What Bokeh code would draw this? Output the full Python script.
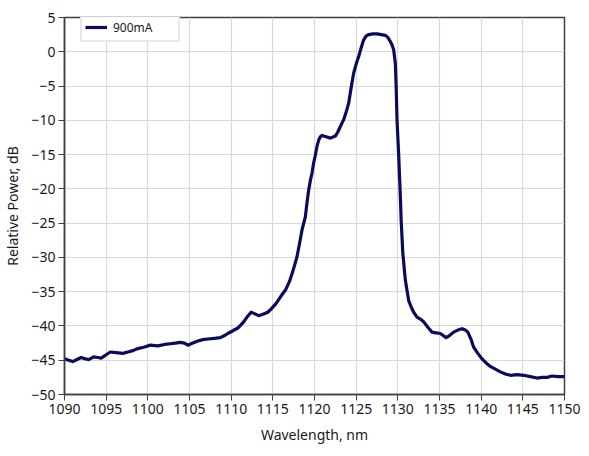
from bokeh.plotting import figure
from bokeh.models import Legend, LegendItem, FixedTicker, Range1d
from bokeh.embed import file_html
from bokeh.resources import INLINE

series_label = "900mA"
wavelength = [1090.0, 1090.5, 1091.0, 1091.5, 1092.0, 1092.5, 1092.9, 1093.5, 1094.0, 1094.4,
              1095.0, 1095.5, 1096.2, 1097.0, 1097.6, 1098.2, 1098.8, 1099.5, 1100.3, 1101.2,
              1102.0, 1102.7, 1103.3, 1103.9, 1104.4, 1104.8, 1105.4, 1106.0, 1106.6, 1107.2,
              1108.0, 1108.7, 1109.2, 1109.6, 1110.2, 1110.8, 1111.2, 1111.5, 1111.9, 1112.4,
              1112.8, 1113.3, 1113.8, 1114.4, 1114.9, 1115.4, 1116.0, 1116.5, 1117.0, 1117.3,
              1117.6, 1117.9, 1118.2, 1118.5, 1118.9, 1119.1, 1119.3, 1119.5, 1119.7, 1119.9,
              1120.1, 1120.3, 1120.5, 1120.7, 1120.9, 1121.4, 1121.9, 1122.5, 1122.8, 1123.1,
              1123.5, 1123.8, 1124.1, 1124.4, 1124.7, 1125.0, 1125.3, 1125.6, 1125.9, 1126.2,
              1126.5, 1127.0, 1127.5, 1128.0, 1128.5, 1128.8, 1129.1, 1129.3, 1129.5, 1129.7,
              1129.8, 1129.9, 1130.1, 1130.3, 1130.4, 1130.6, 1130.8, 1130.9, 1131.1, 1131.3,
              1131.7, 1131.9, 1132.3, 1132.7, 1133.1, 1133.6, 1134.1, 1134.6, 1135.1, 1135.8,
              1136.2, 1136.7, 1137.2, 1137.7, 1138.1, 1138.4, 1138.8, 1139.1, 1139.6, 1140.1,
              1140.6, 1141.1, 1141.7, 1142.3, 1142.9, 1143.5, 1144.3, 1145.1, 1145.9, 1146.7,
              1147.3, 1147.9, 1148.5, 1149.2, 1150.0]
power_db = [-44.8, -45.0, -45.2, -44.9, -44.6, -44.8, -44.9, -44.5, -44.6, -44.7,
            -44.2, -43.8, -43.9, -44.0, -43.8, -43.6, -43.3, -43.1, -42.8, -42.9,
            -42.7, -42.6, -42.5, -42.4, -42.5, -42.8, -42.5, -42.2, -42.0, -41.9,
            -41.8, -41.7, -41.4, -41.1, -40.7, -40.3, -39.8, -39.4, -38.7, -38.0,
            -38.2, -38.5, -38.3, -38.0, -37.4, -36.7, -35.6, -34.8, -33.5, -32.4,
            -31.2, -29.9, -28.0, -26.0, -24.1, -22.0, -20.2, -18.8, -17.7, -16.2,
            -15.1, -13.8, -12.9, -12.4, -12.2, -12.4, -12.6, -12.3, -11.7, -10.9,
            -9.9, -8.8, -7.5, -5.2, -3.1, -1.8, -0.7, 0.6, 1.75, 2.3,
            2.5, 2.6, 2.6, 2.5, 2.4, 2.1, 1.5, 1.0, 0.3, -1.7,
            -5.1, -9.9, -15.0, -21.0, -24.6, -29.4, -32.0, -33.3, -34.8, -36.3,
            -37.5, -38.0, -38.7, -39.0, -39.4, -40.2, -40.9, -41.0, -41.1, -41.7,
            -41.4, -40.9, -40.6, -40.4, -40.6, -40.9, -42.0, -43.1, -44.0, -44.8,
            -45.4, -45.9, -46.3, -46.7, -47.0, -47.2, -47.1, -47.2, -47.4, -47.6,
            -47.5, -47.5, -47.3, -47.4, -47.4]
x_ticks = [1090, 1095, 1100, 1105, 1110, 1115, 1120, 1125, 1130, 1135, 1140, 1145, 1150]
y_ticks = [5, 0, -5, -10, -15, -20, -25, -30, -35, -40, -45, -50]
x_title = "Wavelength, nm"
y_title = "Relative Power, dB"

FONT = "Noto Sans"
TEXT = "#1a1a1a"

p = figure(width=581, height=448, output_backend="svg", toolbar_location=None,
           x_range=Range1d(1090, 1150), y_range=Range1d(-50, 5),
           min_border_left=64, min_border_right=17, min_border_top=17, min_border_bottom=54)
p.outline_line_color = "#404040"
p.outline_line_width = 1.5
p.background_fill_color = "white"
p.border_fill_color = "white"

for ax in (p.xaxis[0], p.yaxis[0]):
    ax.axis_line_color = "#404040"
    ax.axis_line_width = 1.5
    ax.major_tick_line_color = "#404040"
    ax.major_tick_line_width = 1
    ax.major_tick_out = 6
    ax.major_tick_in = 0
    ax.minor_tick_line_color = None
    ax.major_label_text_font = FONT
    ax.major_label_text_font_size = "14px"
    ax.major_label_text_color = TEXT
    ax.axis_label_text_font = FONT
    ax.axis_label_text_font_size = "14px"
    ax.axis_label_text_font_style = "normal"
    ax.axis_label_text_color = TEXT

p.xaxis[0].ticker = FixedTicker(ticks=x_ticks)
p.yaxis[0].ticker = FixedTicker(ticks=y_ticks)
p.xaxis[0].axis_label = x_title
p.yaxis[0].axis_label = y_title
p.xaxis[0].major_label_standoff = 3
p.xaxis[0].axis_label_standoff = 8
p.yaxis[0].major_label_standoff = 3
p.yaxis[0].axis_label_standoff = 6

p.xgrid.ticker = FixedTicker(ticks=x_ticks)
p.ygrid.ticker = FixedTicker(ticks=y_ticks)
for g in (p.xgrid[0], p.ygrid[0]):
    g.grid_line_color = "#d9d9d9"
    g.grid_line_width = 1.2

r = p.line(wavelength, power_db, line_color="#0b0b5c", line_width=3.2, line_join="round")

legend = Legend(items=[LegendItem(label=series_label, renderers=[r])],
                location=(16, 352), padding=3, margin=0,
                label_text_font=FONT, label_text_font_size="12px", label_text_color=TEXT,
                label_width=62, glyph_width=22, label_standoff=6,
                border_line_color="#cfcfcf", border_line_width=2,
                background_fill_color="white", background_fill_alpha=1.0)
p.add_layout(legend)

open("out.html", "w").write(file_html(p, INLINE))
